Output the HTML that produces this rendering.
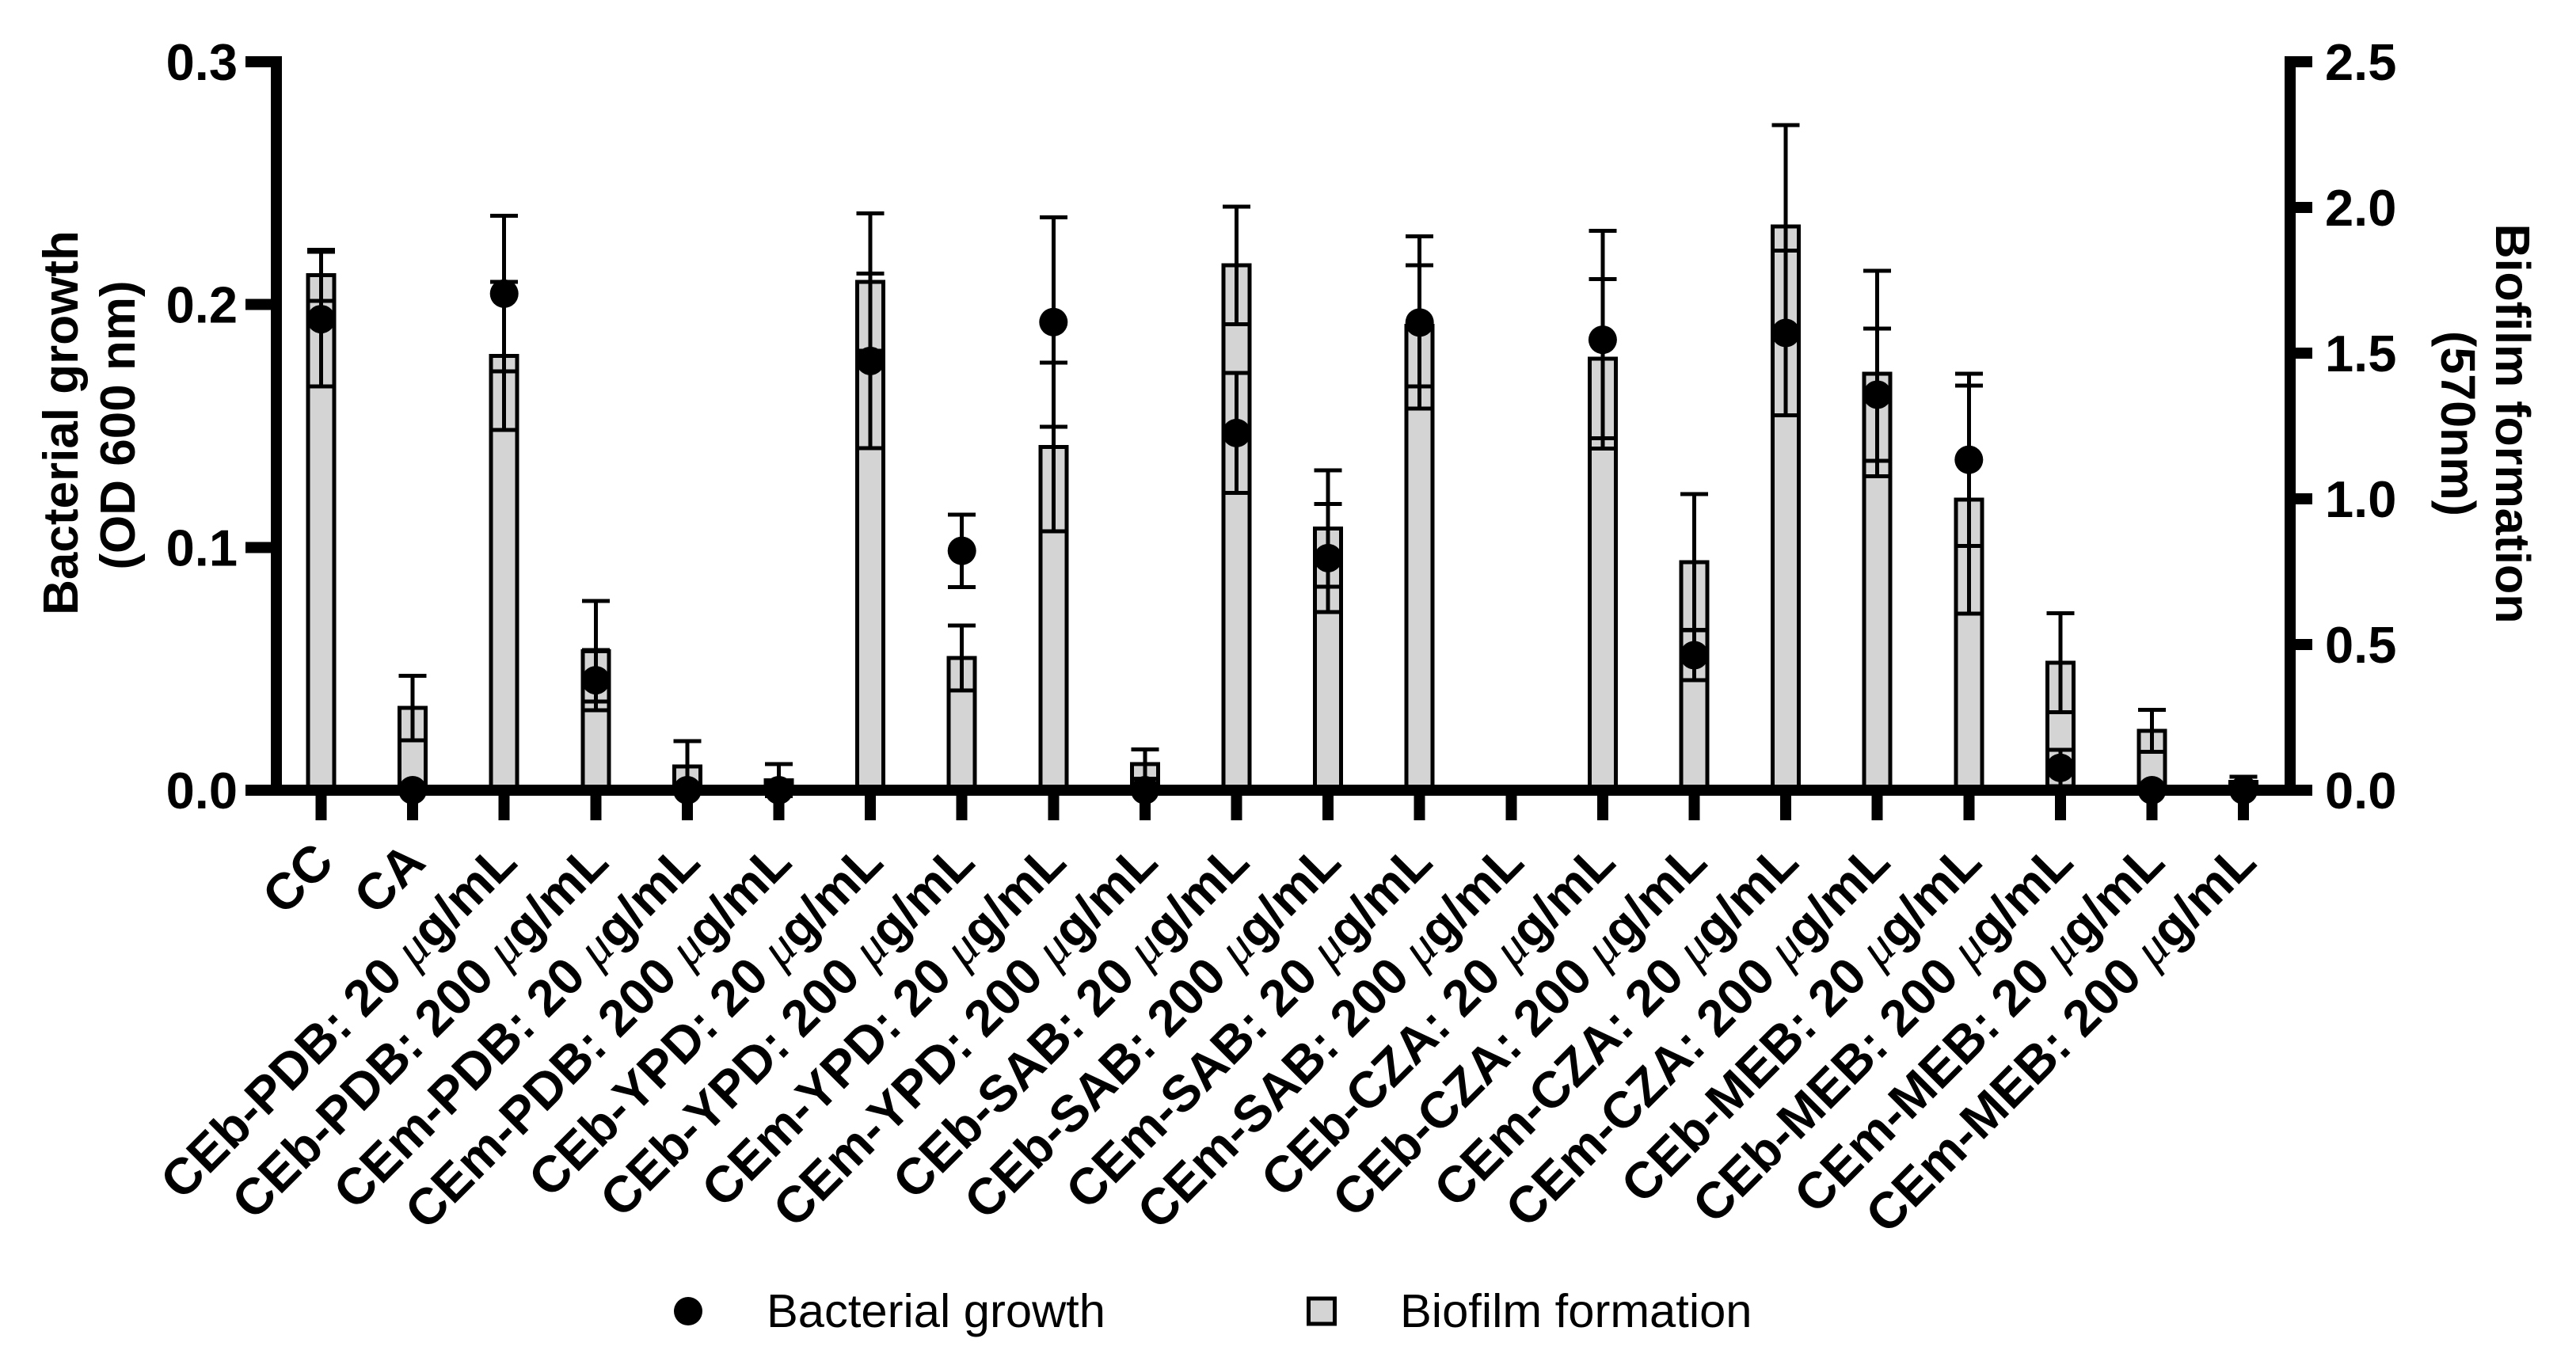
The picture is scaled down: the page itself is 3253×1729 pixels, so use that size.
<!DOCTYPE html>
<html>
<head>
<meta charset="utf-8">
<title>Bacterial growth and biofilm formation</title>
<style>
html,body{margin:0;padding:0;background:#fff;}
svg{display:block;font-family:"Liberation Sans",sans-serif;}
.crisp{shape-rendering:crispEdges;}
</style>
</head>
<body>
<svg id="chart" xmlns="http://www.w3.org/2000/svg" width="3253" height="1729" viewBox="0 0 3253 1729">
  <rect x="0" y="0" width="3253" height="1729" fill="#ffffff"/>
  <g id="bars" class="crisp"></g>
  <g id="barErrors" class="crisp"></g>
  <g id="dotErrors" class="crisp"></g>
  <g id="axes" class="crisp"></g>
  <g id="dots"></g>
  <g id="leftLabels"></g>
  <g id="rightLabels"></g>
  <g id="xLabels"></g>

  <text font-weight="bold" font-size="62" text-anchor="middle" transform="translate(98,534) rotate(-90)">Bacterial growth</text>
  <text font-weight="bold" font-size="62" text-anchor="middle" transform="translate(170,537) rotate(-90)">(OD 600 nm)</text>
  <text font-weight="bold" font-size="61" text-anchor="middle" transform="translate(3152,535) rotate(90)">Biofilm formation</text>
  <text font-weight="bold" font-size="61" text-anchor="middle" transform="translate(3083,535) rotate(90)">(570nm)</text>

  <g>
    <circle cx="869" cy="1656" r="18" fill="#000"/>
    <text x="968" y="1676" font-size="59.7">Bacterial growth</text>
    <rect class="crisp" x="1652.5" y="1640" width="33" height="32" fill="#d4d4d4" stroke="#000" stroke-width="5"/>
    <text x="1768" y="1676" font-size="59.7">Biofilm formation</text>
  </g>
</svg>
<script>
const categories = [
  "CC", "CA",
  "CEb-PDB: 20 μg/mL", "CEb-PDB: 200 μg/mL", "CEm-PDB: 20 μg/mL", "CEm-PDB: 200 μg/mL",
  "CEb-YPD: 20 μg/mL", "CEb-YPD: 200 μg/mL", "CEm-YPD: 20 μg/mL", "CEm-YPD: 200 μg/mL",
  "CEb-SAB: 20 μg/mL", "CEb-SAB: 200 μg/mL", "CEm-SAB: 20 μg/mL", "CEm-SAB: 200 μg/mL",
  "CEb-CZA: 20 μg/mL", "CEb-CZA: 200 μg/mL", "CEm-CZA: 20 μg/mL", "CEm-CZA: 200 μg/mL",
  "CEb-MEB: 20 μg/mL", "CEb-MEB: 200 μg/mL", "CEm-MEB: 20 μg/mL", "CEm-MEB: 200 μg/mL"
];
const bacterialGrowth = [0.194, 0, 0.2045, 0.0453, 0, 0, 0.1768, 0.0986, 0.1928, 0, 0.1471, 0.0956, 0.1926, null, 0.1855, 0.0556, 0.1883, 0.1629, 0.1361, 0.0092, 0, 0];
const bacterialError = [0.0277, 0, 0.032, 0.0124, 0, 0, 0.0359, 0.0149, 0.0432, 0, 0.0247, 0.0222, 0.0355, null, 0.0448, 0.0103, 0.0339, 0.0272, 0.0355, 0.0075, 0, 0];
const biofilmFormation = [1.767, 0.282, 1.491, 0.477, 0.082, 0.034, 1.744, 0.454, 1.178, 0.090, 1.801, 0.898, 1.594, 0, 1.481, 0.783, 1.935, 1.430, 0.997, 0.437, 0.204, 0.029];
const biofilmError = [0.088, 0.111, 0.254, 0.172, 0.086, 0.055, 0.236, 0.111, 0.290, 0.050, 0.202, 0.200, 0.208, 0, 0.273, 0.233, 0.347, 0.353, 0.391, 0.170, 0.072, 0.017];
const leftTicks = ["0.0", "0.1", "0.2", "0.3"];
const rightTicks = ["0.0", "0.5", "1.0", "1.5", "2.0", "2.5"];

const NS = "http://www.w3.org/2000/svg";
const plotBottom = 998, plotTop = 78;
const leftMax = 0.3, rightMax = 2.5;
function xPos(i) { return 405.5 + i * 115.6; }
function yLeft(v) { return plotBottom - (v / leftMax) * (plotBottom - plotTop); }
function yRight(v) { return plotBottom - (v / rightMax) * (plotBottom - plotTop); }
function make(tag, parent, attrs) {
  const el = document.createElementNS(NS, tag);
  for (const k in attrs) el.setAttribute(k, attrs[k]);
  parent.appendChild(el);
  return el;
}
const barsG = document.getElementById("bars");
const barErrG = document.getElementById("barErrors");
const dotErrG = document.getElementById("dotErrors");
const dotsG = document.getElementById("dots");
const axesG = document.getElementById("axes");
const leftG = document.getElementById("leftLabels");
const rightG = document.getElementById("rightLabels");
const xG = document.getElementById("xLabels");

function errorBar(parent, cx, yc, yTop, yBottom, name) {
  const g = make("g", parent, {stroke: "#000", "stroke-width": 5, fill: "none"});
  
  
  make("line", g, {x1: cx, x2: cx, y1: yTop, y2: yBottom});
  make("line", g, {x1: cx - 17.5, x2: cx + 17.5, y1: yTop, y2: yTop});
  make("line", g, {x1: cx - 17.5, x2: cx + 17.5, y1: yBottom, y2: yBottom});
}

categories.forEach(function (cat, i) {
  const cx = xPos(i);
  const top = yRight(biofilmFormation[i]);
  if (biofilmFormation[i] > 0) {
    const bar = make("rect", barsG, {x: cx - 16.5, y: top, width: 33, height: plotBottom - top, fill: "#d4d4d4", stroke: "#000", "stroke-width": 5});
    
    
    errorBar(barErrG, cx, top, yRight(biofilmFormation[i] + biofilmError[i]), yRight(biofilmFormation[i] - biofilmError[i]), 'biofilm-error-bar');
  }
  if (bacterialGrowth[i] !== null) {
    if (bacterialError[i] > 0) {
      errorBar(dotErrG, cx, yLeft(bacterialGrowth[i]), yLeft(bacterialGrowth[i] + bacterialError[i]), yLeft(bacterialGrowth[i] - bacterialError[i]), 'bacterial-error-bar');
    }
    const dot = make("circle", dotsG, {cx: cx, cy: yLeft(bacterialGrowth[i]), r: 18, fill: "#000"});
    
    
  }
  const tick = make("rect", axesG, {x: cx - 7, y: 1005, width: 14, height: 31, fill: "#000"});
  
  

  const parts = cat.split("μ");
  const label = make("text", xG, {"font-size": 64.5, "font-weight": "bold", "text-anchor": "end", transform: "translate(" + (cx + 19) + ",1092) rotate(-45)"});
  
  
  const t1 = make("tspan", label, {});
  t1.textContent = parts[0];
  if (parts.length > 1) {
    const mu = make("tspan", label, {"font-weight": "normal", "font-family": "Liberation Serif, serif", "font-style": "italic"});
    mu.textContent = "μ";
    const t2 = make("tspan", label, {});
    t2.textContent = parts[1];
  }
});

const xAxis = make("rect", axesG, {x: 310, y: 991, width: 2610, height: 14, fill: "#000"});


const leftAxis = make("rect", axesG, {x: 342, y: 71, width: 14, height: 934, fill: "#000"});


const rightAxis = make("rect", axesG, {x: 2885, y: 71, width: 14, height: 934, fill: "#000"});



leftTicks.forEach(function (t) {
  const y = yLeft(parseFloat(t));
  const tick = make("rect", axesG, {x: 310, y: y - 7, width: 40, height: 14, fill: "#000"});
  
  
  const label = make("text", leftG, {x: 300, y: y + 23, "font-size": 65, "font-weight": "bold", "text-anchor": "end"});
  
  
  label.textContent = t;
});
rightTicks.forEach(function (t) {
  const y = yRight(parseFloat(t));
  const tick = make("rect", axesG, {x: 2890, y: y - 7, width: 30, height: 14, fill: "#000"});
  
  
  const label = make("text", rightG, {x: 2936, y: y + 23, "font-size": 65, "font-weight": "bold"});
  
  
  label.textContent = t;
});
</script>
</body>
</html>
